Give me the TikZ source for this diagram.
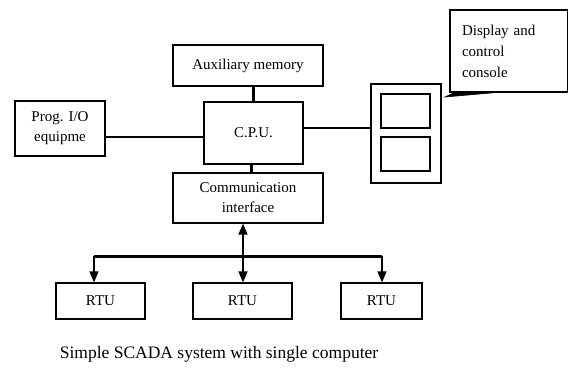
\documentclass[tikz,border=0pt]{standalone}
\usepackage{fontspec}
\setmainfont{Liberation Serif}
\usetikzlibrary{arrows.meta}
\tikzset{
  blk/.style={draw, line width=1.2pt, inner sep=0pt, align=center,
    font=\fontsize{15}{20}\selectfont},
  thin link/.style={line width=1.4pt},
  thick link/.style={line width=3pt},
  bus arrow/.style={line width=1.5pt, -{Triangle[length=11pt,width=9pt]}}
}
\begin{document}
\begin{tikzpicture}[x=1pt, y=-1pt]
\useasboundingbox (0,0) rectangle (568,368);
% blocks
\node[blk, minimum width=150pt, minimum height=41pt] (aux) at (248,65.5) {Auxiliary memory};
\node[blk, minimum width=99pt, minimum height=62pt] (cpu) at (253.5,133) {\raisebox{-6pt}{C.P.U.}};
\node[blk, minimum width=90pt, minimum height=55pt] (prog) at (60,128.5) {Prog. I/O\\equipme};
\node[blk, minimum width=150pt, minimum height=50pt] (comm) at (248,198) {Communication\\interface};
% console
\node[blk, minimum width=70pt, minimum height=99pt] (cons) at (406,133.5) {};
\node[blk, minimum width=49pt, minimum height=34pt] (scrA) at (405.5,111) {};
\node[blk, minimum width=49pt, minimum height=34pt] (scrB) at (405.5,154) {};
% callout
\node[blk, minimum width=118pt, minimum height=82pt, text width=94pt, align=left,
  font=\fontsize{15}{21}\selectfont] (note) at (509,51) {Display and\\control\\console};
\coordinate (tip) at (445,97);
\filldraw[line width=0.6pt] ([xshift=5pt]note.south west) -- (tip) -- ([xshift=46pt]note.south west) -- cycle;
% RTUs
\node[blk, minimum width=89pt, minimum height=36pt] (rtuA) at (100.5,301) {RTU};
\node[blk, minimum width=99pt, minimum height=36pt] (rtuB) at (242.5,301) {RTU};
\node[blk, minimum width=81pt, minimum height=36pt] (rtuC) at (381.5,301) {RTU};
% links
\coordinate (cpuS) at ([xshift=-2.5pt]cpu.south);
\coordinate (progE) at ([yshift=-8.5pt]prog.east);
\coordinate (cpuE) at ([yshift=5pt]cpu.east);
\draw[thick link] (aux.south -| cpu.north) -- (cpu.north);
\draw[thick link] (cpuS) -- (comm.north -| cpuS);
\draw[thin link] (progE) -- (cpu.west |- progE);
\draw[line width=1.8pt] (cpuE) -- (cons.west |- cpuE);
% bus
\coordinate (busL) at (94,256);
\coordinate (busM) at (243,256);
\coordinate (busR) at (382,256);
\draw[thick link] (busL) -- (busR);
\draw[bus arrow] (busL) -- (rtuA.north -| busL);
\draw[bus arrow] (busR) -- (rtuC.north -| busR);
\draw[bus arrow, {Triangle[length=11pt,width=9pt]}-{Triangle[length=11pt,width=9pt]}] (comm.south -| busM) -- (rtuB.north -| busM);
% caption
\node[font=\fontsize{17.5}{20}\selectfont] (cap) at (219,354) {Simple SCADA system with single computer};
\end{tikzpicture}
\end{document}
